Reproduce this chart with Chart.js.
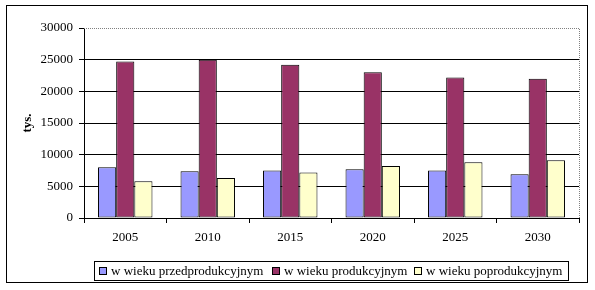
<!DOCTYPE html>
<html>
<head>
<meta charset="utf-8">
<script src="https://cdn.jsdelivr.net/npm/chart.js@4.4.0/dist/chart.umd.min.js"></script>
<style>
  html, body { margin: 0; padding: 0; background: #fff; }
  #wrap { position: relative; width: 595px; height: 290px; }
  #frame { position: absolute; left: 6px; top: 5px; width: 582px; height: 278px; border: 1px solid #000; box-sizing: border-box; pointer-events: none; }
  #legend { position: absolute; left: 94px; top: 261px; width: 475px; height: 20px; border: 1px solid #000; box-sizing: border-box;
            font-family: "Liberation Serif", "Times New Roman", serif; font-size: 13px; color: #000; }
  #legend .sw { position: absolute; top: 5px; width: 8px; height: 8px; border: 1px solid #000; box-sizing: border-box; }
  #legend .tx { position: absolute; top: 1px; white-space: nowrap; line-height: 15px; }
</style>
</head>
<body>
<div id="wrap">
  <canvas id="c" width="595" height="290"></canvas>
  <div id="frame"></div>
  <div id="legend"></div>
</div>
<script>
const categories = ['2005', '2010', '2015', '2020', '2025', '2030'];
const seriesNames = ['w wieku przedprodukcyjnym', 'w wieku produkcyjnym', 'w wieku poprodukcyjnym'];
const przed = [8000, 7400, 7500, 7700, 7500, 6900];
const prod = [24700, 25000, 24200, 23000, 22200, 22000];
const popro = [5800, 6300, 7200, 8200, 8800, 9100];
const yTicks = [0, 5000, 10000, 15000, 20000, 25000, 30000];
const colors = ['#9999FF', '#993366', '#FFFFCC'];

// html legend
const legend = document.getElementById('legend');
const swX = [4, 177, 319];
seriesNames.forEach((name, i) => {
  const sw = document.createElement('span');
  sw.className = 'sw';
  sw.style.left = swX[i] + 'px';
  sw.style.background = colors[i];
  legend.appendChild(sw);
  const tx = document.createElement('span');
  tx.className = 'tx';
  tx.style.left = (swX[i] + 12) + 'px';
  tx.textContent = name;
  legend.appendChild(tx);
});

// dotted border on top and right of plot area
const plotBorder = {
  id: 'plotBorder',
  afterDraw(chart) {
    const { ctx, chartArea: a } = chart;
    ctx.save();
    ctx.strokeStyle = '#808080';
    ctx.lineWidth = 1;
    ctx.setLineDash([1, 1]);
    ctx.beginPath();
    ctx.moveTo(a.left, a.top + 0.5);
    ctx.lineTo(a.right + 0.5, a.top + 0.5);
    ctx.lineTo(a.right + 0.5, a.bottom);
    ctx.stroke();
    ctx.restore();
  }
};

const font = { family: '"Liberation Serif", "Times New Roman", serif', size: 13 };

new Chart(document.getElementById('c'), {
  type: 'bar',
  data: {
    labels: categories,
    datasets: [przed, prod, popro].map((d, i) => ({
      label: seriesNames[i],
      data: d,
      backgroundColor: colors[i],
      borderColor: '#000',
      borderWidth: 1,
      borderSkipped: false,
      categoryPercentage: 0.66,
      barPercentage: 1
    }))
  },
  options: {
    responsive: false,
    animation: false,
    layout: { padding: { left: 16, top: 28, right: 16, bottom: 32 } },
    plugins: { legend: { display: false }, tooltip: { enabled: false } },
    scales: {
      x: {
        grid: { offset: true, drawOnChartArea: false, drawTicks: true, tickLength: 5, color: '#000' },
        border: { color: '#000', width: 1 },
        ticks: { color: '#000', font: font, padding: 7 },
        afterFit(s) { s.height = 40; }
      },
      y: {
        min: 0,
        max: 30000,
        afterBuildTicks(s) { s.ticks = yTicks.map(v => ({ value: v })); },
        grid: {
          color: c => (c.tick && c.tick.value === 30000 ? 'rgba(0,0,0,0)' : '#000'),
          tickColor: '#000',
          tickLength: 5
        },
        border: { color: '#000', width: 1 },
        ticks: { color: '#000', font: font, padding: 6, callback: v => String(v) },
        title: { display: true, text: 'tys.', color: '#000', font: { family: font.family, size: 13, weight: 'bold' }, padding: { top: 4, bottom: 0 } },
        afterFit(s) { s.width = 68; }
      }
    }
  },
  plugins: [plotBorder]
});
</script>
</body>
</html>
